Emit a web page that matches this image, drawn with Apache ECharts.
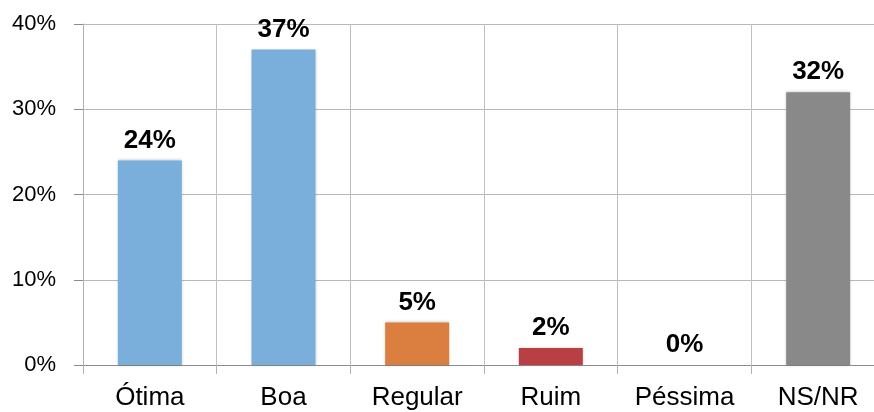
<!DOCTYPE html>
<html>
<head>
<meta charset="utf-8">
<script src="https://cdn.jsdelivr.net/npm/echarts@6/dist/echarts.min.js"></script>
<style>
  html, body { margin: 0; padding: 0; background: #fff; }
  #chart { width: 874px; height: 412px; }
</style>
</head>
<body>
<div id="chart"></div>
<script>
const categories = ['Ótima', 'Boa', 'Regular', 'Ruim', 'Péssima', 'NS/NR']
const values = [24, 37, 5, 2, 0, 32]
const barColors = ['#7aafdc', '#7aafdc', '#db7f41', '#b84045', '#7aafdc', '#898989']

const chart = echarts.init(document.getElementById('chart'))

// plot area runs past the right edge of the picture, like the original
chart.setOption({
  animation: false,
  textStyle: { fontFamily: 'Liberation Sans, Arial, sans-serif' },
  grid: { left: 83, right: -11, top: 24, bottom: 47, outerBoundsMode: 'none' },
  xAxis: {
    type: 'category',
    data: categories,
    axisLine: { lineStyle: { color: '#8c8c8c' } },
    axisTick: { show: true, length: 9, lineStyle: { color: '#b0b0b0' } },
    splitLine: { show: true, lineStyle: { color: '#c0c0c0' } },
    axisLabel: { color: '#000', fontSize: 26, margin: 20 }
  },
  yAxis: {
    type: 'value',
    min: 0,
    max: 40,
    interval: 10,
    axisLine: { show: true, lineStyle: { color: '#b0b0b0' } },
    axisTick: { show: true, length: 9, lineStyle: { color: '#8c8c8c' } },
    splitLine: { lineStyle: { color: '#b8b8b8' } },
    axisLabel: { color: '#000', fontSize: 22, margin: 27, formatter: '{value}%' }
  },
  series: [
    {
      type: 'bar',
      barWidth: 64,
      data: values.map((v, i) => ({
        value: v,
        itemStyle: {
          color: barColors[i],
          shadowBlur: 3,
          shadowColor: 'rgba(0,0,0,0.25)'
        }
      })),
      label: {
        show: true,
        position: 'top',
        distance: 7,
        color: '#000',
        fontSize: 26,
        fontWeight: 'bold',
        formatter: '{c}%'
      }
    }
  ]
})
</script>
</body>
</html>
